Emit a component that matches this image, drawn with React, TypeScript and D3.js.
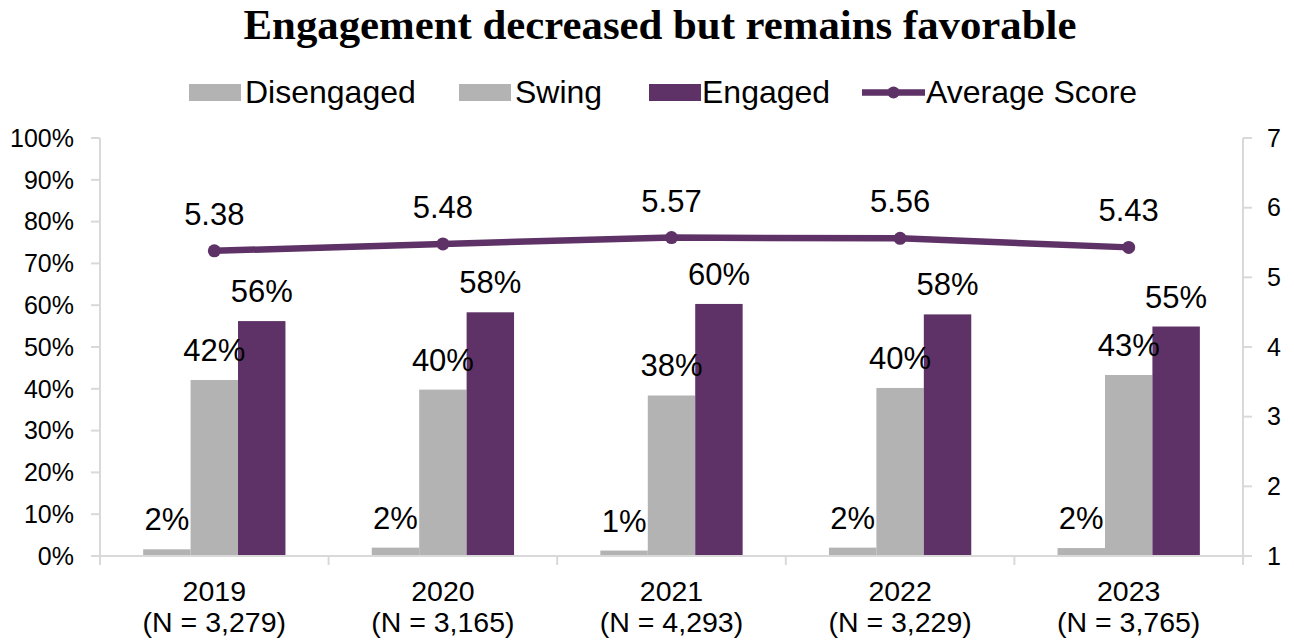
import React from "react";
import * as d3 from "d3";

const years = ["2019", "2020", "2021", "2022", "2023"];
const nLabels = ["(N = 3,279)", "(N = 3,165)", "(N = 4,293)", "(N = 3,229)", "(N = 3,765)"];
const disengaged = [0.016, 0.02, 0.013, 0.02, 0.019];
const swing = [0.421, 0.398, 0.384, 0.402, 0.433];
const engaged = [0.562, 0.583, 0.603, 0.578, 0.549];
const avgScore = [5.38, 5.48, 5.57, 5.56, 5.43];
const leftTicks = [0, 0.1, 0.2, 0.3, 0.4, 0.5, 0.6, 0.7, 0.8, 0.9, 1.0];
const rightTicks = [1, 2, 3, 4, 5, 6, 7];
const seriesNames = ["Disengaged", "Swing", "Engaged"];

const W = 1294;
const H = 643;
const PURPLE = "#5e3266";
const GRAY = "#b3b3b3";
const AXIS = "#d9d9d9";
const SANS = "'Liberation Sans', Arial, sans-serif";
const SERIF = "'Liberation Serif', 'Times New Roman', serif";

export default function App() {
  const plotL = 100;
  const plotR = 1243;
  const plotT = 138;
  const plotB = 556;

  const x = d3.scaleBand<string>().domain(years).range([plotL, plotR]).paddingInner(0).paddingOuter(0);
  const groupW = 142.3;
  const xs = d3.scaleBand<string>().domain(seriesNames).range([0, groupW]).padding(0);
  const yL = d3.scaleLinear().domain([0, 1]).range([plotB, plotT]);
  const yR = d3.scaleLinear().domain([1, 7]).range([plotB, plotT]);
  const pct = d3.format(".0%");

  const seriesData = [
    { name: "Disengaged", values: disengaged, color: GRAY },
    { name: "Swing", values: swing, color: GRAY },
    { name: "Engaged", values: engaged, color: PURPLE },
  ];

  const cx = (y: string) => (x(y) as number) + x.bandwidth() / 2;

  const line = d3
    .line<number>()
    .x((_, i) => cx(years[i]))
    .y((d) => yR(d));

  const boundaries = [plotL, ...years.map((y) => (x(y) as number) + x.bandwidth())];

  const legend = [
    { kind: "rect", color: GRAY, label: "Disengaged", x: 189, tx: 245 },
    { kind: "rect", color: GRAY, label: "Swing", x: 459, tx: 515 },
    { kind: "rect", color: PURPLE, label: "Engaged", x: 649, tx: 702 },
    { kind: "line", color: PURPLE, label: "Average Score", x: 862, tx: 926 },
  ];

  return (
    <svg
      width={W}
      height={H}
      style={{ position: "absolute", left: 0, top: 0, background: "#fff" }}
    >
      <text
        x={660}
        y={39}
        textAnchor="middle"
        fontFamily={SERIF}
        fontWeight="bold"
        fontSize={42.8}
        fill="#000"
      >
        Engagement decreased but remains favorable
      </text>

      {/* legend */}
      {legend.map((l) => (
        <g key={l.label}>
          {l.kind === "rect" ? (
            <rect x={l.x} y={84} width={52} height={17} fill={l.color} />
          ) : (
            <g>
              <line x1={l.x} x2={l.x + 63} y1={92.5} y2={92.5} stroke={l.color} strokeWidth={6.5} />
              <circle cx={l.x + 31.5} cy={92.5} r={6} fill={l.color} />
            </g>
          )}
          <text x={l.tx} y={103} fontFamily={SANS} fontSize={32} fill="#000">
            {l.label}
          </text>
        </g>
      ))}

      {/* left axis */}
      <line x1={plotL} x2={plotL} y1={yL(1)} y2={plotB} stroke={AXIS} strokeWidth={2} />
      {leftTicks.map((t) => (
        <g key={"l" + t}>
          <line x1={plotL - 9} x2={plotL} y1={yL(t)} y2={yL(t)} stroke={AXIS} strokeWidth={2} />
          <text
            x={74}
            y={yL(t)}
            dy="0.35em"
            textAnchor="end"
            fontFamily={SANS}
            fontSize={25}
            fill="#000"
          >
            {pct(t)}
          </text>
        </g>
      ))}

      {/* right axis */}
      <line x1={plotR} x2={plotR} y1={yR(7)} y2={plotB} stroke={AXIS} strokeWidth={2} />
      {rightTicks.map((t) => (
        <g key={"r" + t}>
          <line x1={plotR} x2={plotR + 9} y1={yR(t)} y2={yR(t)} stroke={AXIS} strokeWidth={2} />
          <text
            x={1267}
            y={yR(t)}
            dy="0.35em"
            textAnchor="start"
            fontFamily={SANS}
            fontSize={25}
            fill="#000"
          >
            {t}
          </text>
        </g>
      ))}

      {/* bars */}
      {seriesData.map((s) =>
        s.values.map((v, i) => {
          const bx = cx(years[i]) - groupW / 2 + (xs(s.name) as number);
          return (
            <rect
              key={s.name + i}
              x={bx}
              y={yL(v)}
              width={xs.bandwidth()}
              height={plotB - yL(v)}
              fill={s.color}
            />
          );
        })
      )}

      {/* x axis */}
      <line x1={plotL} x2={plotR} y1={plotB} y2={plotB} stroke={AXIS} strokeWidth={2} />
      {boundaries.map((b, i) => (
        <line key={"xb" + i} x1={b} x2={b} y1={plotB} y2={plotB + 9} stroke={AXIS} strokeWidth={2} />
      ))}
      {years.map((y, i) => (
        <g key={"xl" + y}>
          <text x={cx(y)} y={601} textAnchor="middle" fontFamily={SANS} fontSize={28.5} fill="#000">
            {y}
          </text>
          <text x={cx(y)} y={632} textAnchor="middle" fontFamily={SANS} fontSize={28.5} fill="#000">
            {nLabels[i]}
          </text>
        </g>
      ))}

      {/* bar labels */}
      {seriesData.map((s) =>
        s.values.map((v, i) => {
          const bx = cx(years[i]) - groupW / 2 + (xs(s.name) as number) + xs.bandwidth() / 2;
          return (
            <text
              key={"bl" + s.name + i}
              x={bx}
              y={yL(v) - 19}
              textAnchor="middle"
              fontFamily={SANS}
              fontSize={31}
              fill="#000"
            >
              {pct(v)}
            </text>
          );
        })
      )}

      {/* average score line */}
      <path d={line(avgScore) || ""} fill="none" stroke={PURPLE} strokeWidth={6.5} strokeLinejoin="round" />
      {avgScore.map((v, i) => (
        <g key={"pt" + i}>
          <circle cx={cx(years[i])} cy={yR(v)} r={6.5} fill={PURPLE} />
          <text
            x={cx(years[i])}
            y={yR(v) - 26}
            textAnchor="middle"
            fontFamily={SANS}
            fontSize={31}
            fill="#000"
          >
            {v.toFixed(2)}
          </text>
        </g>
      ))}
    </svg>
  );
}
